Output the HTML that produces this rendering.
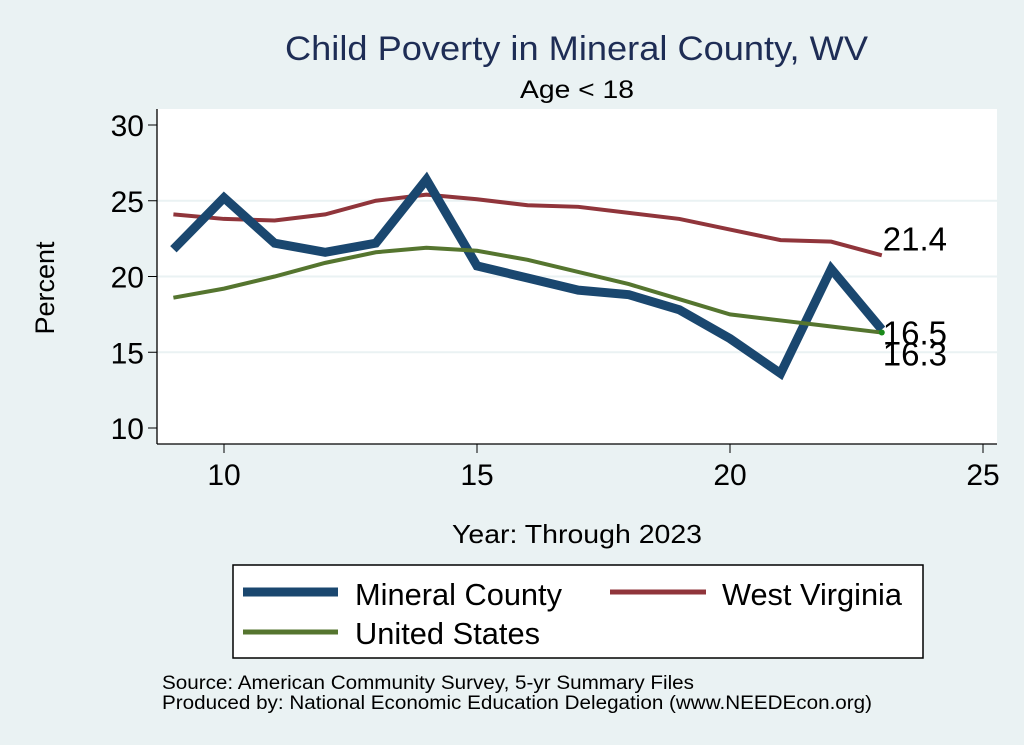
<!DOCTYPE html>
<html><head><meta charset="utf-8"><style>
body{margin:0;background:#eaf2f3;}
svg{display:block;font-family:"Liberation Sans",sans-serif;}
</style></head><body>
<svg id="c" width="1024" height="745" viewBox="0 0 1024 745">
<rect x="0" y="0" width="1024" height="745" fill="#eaf2f3"/>
<text x="285" y="60" font-size="34" fill="#1e2d55" textLength="583" lengthAdjust="spacingAndGlyphs">Child Poverty in Mineral County, WV</text>
<text x="520" y="98" font-size="25" fill="#000" textLength="114" lengthAdjust="spacingAndGlyphs">Age &lt; 18</text>
<rect x="157" y="109" width="840" height="335" fill="#fff"/>
<g id="grid"></g>
<g id="series"></g>
<g id="axes"></g>
<text x="54" y="288" font-size="27" text-anchor="middle" transform="rotate(-90 54 288)">Percent</text>
<text x="452" y="543" font-size="26" textLength="250" lengthAdjust="spacingAndGlyphs">Year: Through 2023</text>
<g>
<rect x="233" y="565" width="690" height="93" fill="#fff" stroke="#000" stroke-width="1.5"/>
<line x1="243" y1="592" x2="338" y2="592" stroke="#1a476f" stroke-width="9"/>
<text x="355" y="605" font-size="31" textLength="207" lengthAdjust="spacingAndGlyphs">Mineral County</text>
<line x1="610" y1="592" x2="706" y2="592" stroke="#90353b" stroke-width="5"/>
<text x="722" y="605" font-size="31" textLength="180" lengthAdjust="spacingAndGlyphs">West Virginia</text>
<line x1="243" y1="632" x2="338" y2="632" stroke="#55752f" stroke-width="5"/>
<text x="355" y="644" font-size="31" textLength="185" lengthAdjust="spacingAndGlyphs">United States</text>
</g>
<text x="162" y="689" font-size="19" textLength="532" lengthAdjust="spacingAndGlyphs">Source: American Community Survey, 5-yr Summary Files</text>
<text x="162" y="709" font-size="19" textLength="710" lengthAdjust="spacingAndGlyphs">Produced by: National Economic Education Delegation (www.NEEDEcon.org)</text>
</svg>
<script>
const years=[9,10,11,12,13,14,15,16,17,18,19,20,21,22,23];
const mineral=[21.8,25.2,22.2,21.6,22.2,26.4,20.7,19.9,19.1,18.8,17.8,15.9,13.6,20.5,16.5];
const wv=[24.1,23.8,23.7,24.1,25.0,25.4,25.1,24.7,24.6,24.2,23.8,23.1,22.4,22.3,21.4];
const us=[18.6,19.2,20.0,20.9,21.6,21.9,21.7,21.1,20.3,19.5,18.5,17.5,17.1,16.7,16.3];
const xTicks=[10,15,20,25];
const yTicks=[10,15,20,25,30];
const NS='http://www.w3.org/2000/svg';
function X(v){return 224+(v-10)*50.6;}
function Y(v){return 428-(v-10)*15.15;}
function mk(tag,attrs,parent){const e=document.createElementNS(NS,tag);for(const k in attrs)e.setAttribute(k,attrs[k]);document.getElementById(parent).appendChild(e);return e;}
yTicks.forEach(t=>{
  if(t>10&&t<30){const g=mk('line',{x1:157,x2:997,y1:Y(t),y2:Y(t),stroke:'#eaf2f3','stroke-width':2},'grid');
  
  }
  const tk=mk('line',{x1:148,x2:157,y1:Y(t),y2:Y(t),stroke:'#000','stroke-width':1},'axes');
  
  
  const tx=mk('text',{x:144,y:Y(t)+11,'font-size':30,'text-anchor':'end'},'axes');tx.textContent=t;
  
  
});
xTicks.forEach(t=>{
  const tk=mk('line',{x1:X(t),x2:X(t),y1:444,y2:453,stroke:'#000','stroke-width':1},'axes');
  
  
  const tx=mk('text',{x:X(t),y:485,'font-size':30,'text-anchor':'middle'},'axes');tx.textContent=t;
  
  
});
const ya=mk('line',{x1:157,x2:157,y1:109,y2:444,stroke:'#000','stroke-width':1.3},'axes');


const xa=mk('line',{x1:157,x2:997,y1:444,y2:444,stroke:'#000','stroke-width':1.3},'axes');


function line(vals,color,w,name){
  const p=mk('polyline',{points:years.map((y,i)=>X(y)+','+Y(vals[i])).join(' '),fill:'none',stroke:color,'stroke-width':w,'stroke-linejoin':'miter'},'series');
  
  
}
line(wv,'#90353b',4,'line-west-virginia');
line(mineral,'#1a476f',9,'line-mineral-county');
line(us,'#55752f',4,'line-united-states');
const dot=mk('circle',{cx:X(years[14]),cy:Y(us[14]),r:3,fill:'#1a8a1a'},'series');


function lab(v,dy,name){const t=mk('text',{x:X(years[14])+1,y:Y(v)+dy,'font-size':33},'series');t.textContent=v.toFixed(1);
  
  }
lab(wv[14],-5,'label-west-virginia');
lab(mineral[14],15,'label-mineral-county');
lab(us[14],33,'label-united-states');
</script>
</body></html>
